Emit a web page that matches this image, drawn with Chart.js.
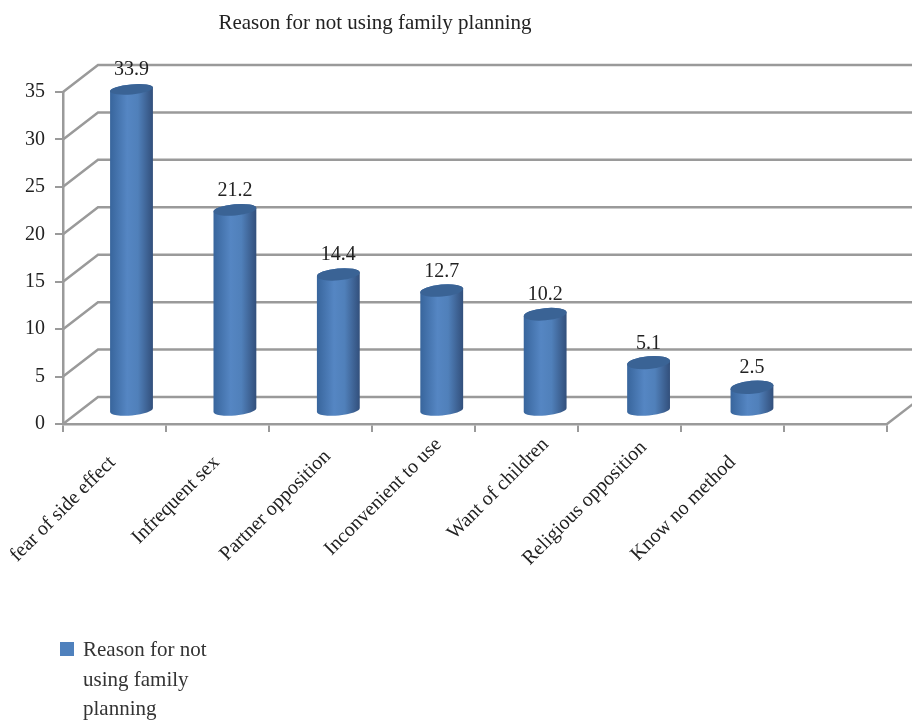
<!DOCTYPE html>
<html>
<head>
<meta charset="utf-8">
<title>Reason for not using family planning</title>
<script src="https://cdn.jsdelivr.net/npm/chart.js@4"></script>
<style>
  body { margin: 0; background: #fff; }
  canvas { display: block; }
</style>
</head>
<body>
<canvas id="reasonChart" width="912" height="722"></canvas>
<script>
const chartTitle = 'Reason for not using family planning';
const categories = ['fear of side effect', 'Infrequent sex', 'Partner opposition', 'Inconvenient to use', 'Want of children', 'Religious opposition', 'Know no method', ''];
const percentValues = [33.9, 21.2, 14.4, 12.7, 10.2, 5.1, 2.5];
const yTicks = [0, 5, 10, 15, 20, 25, 30, 35];
const legendLines = ['Reason for not', 'using family', 'planning'];

const fontFamily = '"Liberation Serif", serif';
const gridColor = '#9a9a9a';
const wallDepthX = 35;
const wallDepthY = 27;
const barShiftX = 17;
const barShiftY = 13;
const perspective = 0.004;

// the original's slanted labels do not sit evenly under the ticks
const labelNudgeX = [-2, -1, 7, 15, 19, 14, 0, 0];
const labelNudgeY = [11, 11, 5, -7, -7, -4, 11, 0];

// Cylinder shape instead of the flat bar rectangle
function drawCylinder(ctx) {
  const { x, y, base, width } = this;
  const cx = cylinderX(x);
  const top = y - barShiftY;
  const bottom = base - barShiftY;
  const rx = width / 2;
  const topRy = 4.5 + y / 200;
  const tilt = -0.09;

  const body = ctx.createLinearGradient(cx - rx, 0, cx + rx, 0);
  body.addColorStop(0, '#38659c');
  body.addColorStop(0.4, '#5586c3');
  body.addColorStop(0.65, '#5080ba');
  body.addColorStop(1, '#324f7b');

  ctx.save();
  ctx.beginPath();
  ctx.ellipse(cx, bottom, rx, 5.5, tilt, 0, Math.PI);
  ctx.ellipse(cx, top, rx, topRy, tilt, Math.PI, Math.PI * 2);
  ctx.closePath();
  ctx.fillStyle = body;
  ctx.fill();

  ctx.beginPath();
  ctx.ellipse(cx, top, rx, topRy, tilt, 0, Math.PI * 2);
  ctx.fillStyle = '#3a6395';
  ctx.fill();
  ctx.restore();
}

function cylinderX(x) {
  return x + barShiftX + (x - 114) * perspective;
}

const cylinderPlugin = {
  id: 'cylinders',
  afterDatasetsUpdate(chart) {
    chart.getDatasetMeta(0).data.forEach(bar => {
      bar.draw = drawCylinder;
    });
  },
  afterLayout(chart) {
    chart.scales.x.getLabelItems().forEach((item, i) => {
      item.options.translation[0] += labelNudgeX[i];
      item.options.translation[1] += labelNudgeY[i];
    });
  }
};

// Side and back walls of the 3D box
const wallPlugin = {
  id: 'walls',
  beforeDatasetsDraw(chart) {
    const { ctx, width } = chart;
    const yScale = chart.scales.y;
    const xScale = chart.scales.x;
    ctx.save();
    ctx.strokeStyle = gridColor;
    ctx.lineWidth = 2.5;
    yTicks.forEach(tick => {
      const py = yScale.getPixelForValue(tick);
      ctx.beginPath();
      ctx.moveTo(xScale.left, py);
      ctx.lineTo(xScale.left + wallDepthX, py - wallDepthY);
      ctx.lineTo(width, py - wallDepthY);
      ctx.stroke();
    });
    const floorY = yScale.getPixelForValue(0);
    ctx.beginPath();
    ctx.moveTo(xScale.right, floorY);
    ctx.lineTo(xScale.right + wallDepthX, floorY - wallDepthY);
    ctx.stroke();
    ctx.restore();
  }
};

const textPlugin = {
  id: 'texts',
  afterDraw(chart) {
    const { ctx } = chart;
    ctx.save();
    ctx.textBaseline = 'alphabetic';

    // value labels above each cylinder
    ctx.font = '20px ' + fontFamily;
    ctx.fillStyle = '#222';
    ctx.textAlign = 'center';
    chart.getDatasetMeta(0).data.forEach((bar, i) => {
      ctx.fillText(percentValues[i].toFixed(1), cylinderX(bar.x), bar.y - 27);
    });

    // title
    ctx.font = '21px ' + fontFamily;
    ctx.fillText(chartTitle, 375, 29);

    // legend
    ctx.fillStyle = '#4f81bd';
    ctx.fillRect(60, 642, 14, 14);
    ctx.fillStyle = '#333';
    ctx.textAlign = 'left';
    ctx.font = '21px ' + fontFamily;
    legendLines.forEach((line, i) => {
      ctx.fillText(line, 83, 656 + i * 29.5);
    });
    ctx.restore();
  }
};

new Chart(document.getElementById('reasonChart'), {
  type: 'bar',
  data: {
    labels: categories,
    datasets: [{
      label: legendLines.join(' '),
      data: percentValues,
      backgroundColor: '#4f81bd',
      barThickness: 43,
      clip: false
    }]
  },
  options: {
    responsive: false,
    animation: false,
    layout: { padding: { top: 92, right: 25, left: 0, bottom: 0 } },
    plugins: {
      legend: { display: false },
      title: { display: false },
      tooltip: { enabled: false }
    },
    scales: {
      x: {
        afterFit(scale) {
          scale.height = 298;
          scale.paddingLeft = 0;
          scale.paddingRight = 0;
        },
        grid: { drawOnChartArea: false, color: gridColor, lineWidth: 2, tickLength: 8 },
        border: { color: gridColor, width: 2.5 },
        ticks: {
          autoSkip: false,
          minRotation: 45,
          maxRotation: 45,
          padding: 8,
          color: '#222',
          font: { family: fontFamily, size: 20 }
        }
      },
      y: {
        min: 0,
        max: 35,
        afterFit(scale) {
          scale.width = 63;
        },
        afterBuildTicks(scale) {
          scale.ticks = yTicks.map(value => ({ value }));
        },
        grid: { drawOnChartArea: false, color: gridColor, lineWidth: 2, tickLength: 8 },
        border: { color: gridColor, width: 2.5 },
        ticks: {
          padding: 10,
          color: '#222',
          font: { family: fontFamily, size: 20 }
        }
      }
    }
  },
  plugins: [wallPlugin, cylinderPlugin, textPlugin]
});
</script>
</body>
</html>
